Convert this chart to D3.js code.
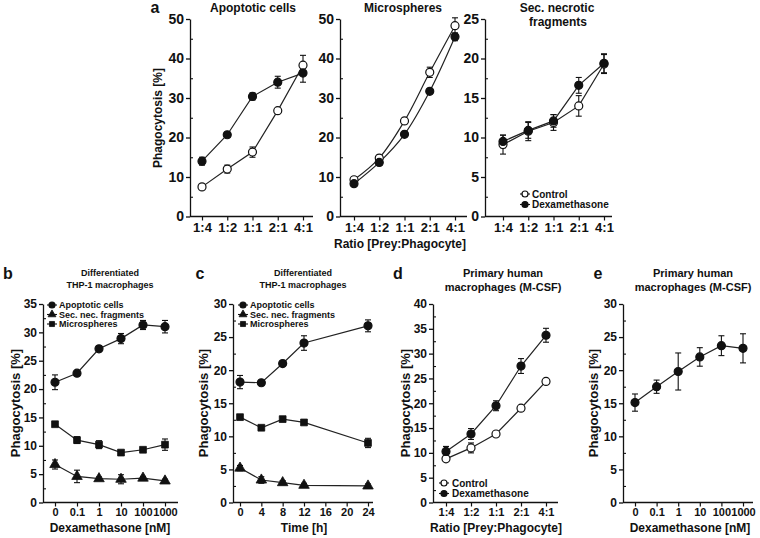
<!DOCTYPE html>
<html><head><meta charset="utf-8">
<script src="https://cdn.jsdelivr.net/npm/d3@7"></script>
<style>
body{margin:0;background:#fff;}
svg{display:block;}
text{font-family:"Liberation Sans",Arial,sans-serif;font-weight:bold;fill:#111;}
</style></head>
<body><svg id="chart" width="760" height="538"></svg>
<script>
// ---------- categories / tick labels ----------
const ratioLabels = ["1:4","1:2","1:1","2:1","4:1"];
const dexLabels = ["0","0.1","1","10","100","1000"];
const timeHours = [0,4,8,12,24];
const timeTicks = [0,4,8,12,16,20,24];

// ---------- panel a ----------
const apoCtrl = [7.5,12.0,16.3,26.8,38.3];
const apoCtrlErr = [0.4,1.0,1.3,0.4,2.5];
const apoDex = [14.0,20.7,30.4,34.0,36.3];
const apoDexErr = [1.0,0.6,0.9,1.5,2.3];
const micCtrl = [9.3,14.8,24.2,36.5,48.3];
const micCtrlErr = [0.8,0.7,0.7,1.3,2.0];
const micDex = [8.3,13.7,20.8,31.7,45.5];
const micDexErr = [0.5,0.8,0.5,0.4,1.0];
const necCtrl = [9.1,10.8,11.9,14.0,19.3];
const necCtrlErr = [1.2,1.2,1.0,1.3,1.2];
const necDex = [9.5,10.9,12.1,16.6,19.4];
const necDexErr = [0.8,1.0,0.8,1.0,1.2];

// ---------- panel b (dexamethasone dose, THP-1) ----------
const bApo = [21.2,22.8,27.1,28.9,31.3,31.0];
const bApoErr = [1.3,0.3,0.5,0.9,0.8,1.1];
const bMic = [13.8,11.0,10.2,8.8,9.3,10.2];
const bMicErr = [0.3,0.6,0.7,0.3,0.3,1.0];
const bNec = [6.7,4.6,4.2,4.1,4.3,3.8];
const bNecErr = [0.8,1.1,0.3,0.8,0.3,0.3];

// ---------- panel c (time, THP-1) ----------
const cApo = [18.2,18.1,21.0,24.1,26.7];
const cApoErr = [1.0,0.3,0.3,1.1,0.9];
const cMic = [12.9,11.3,12.6,12.1,9.0];
const cMicErr = [0.3,0.3,0.3,0.3,0.7];
const cNec = [5.2,3.4,3.0,2.6,2.5];
const cNecErr = [0.4,0.5,0.3,0.3,0.3];

// ---------- panel d (primary macrophages, ratio) ----------
const dCtrl = [8.8,11.0,13.8,19.0,24.4];
const dCtrlErr = [0.5,1.0,0.5,0.3,0.6];
const dDex = [10.3,13.8,19.5,27.5,33.7];
const dDexErr = [1.0,1.1,1.0,1.5,1.4];

// ---------- panel e (primary macrophages, dose) ----------
const eDex = [15.1,17.5,19.8,22.0,23.7,23.3];
const eDexErr = [1.3,1.0,2.8,1.4,1.5,2.2];

const svg = d3.select("#chart");
const INK = "#111";

function marker(g, shape, open, cx, cy, scale) {
  const s = scale || 1;
  if (shape === "circle") {
    g.append("circle").attr("cx",cx).attr("cy",cy).attr("r",4*s)
      .attr("fill", open ? "#fff" : INK).attr("stroke",INK).attr("stroke-width",1.2);
  } else {
    const type = shape === "square" ? d3.symbolSquare : d3.symbolTriangle;
    const size = shape === "square" ? 46*s*s : 48*s*s;
    g.append("path").attr("d", d3.symbol().type(type).size(size)())
      .attr("transform",`translate(${cx},${cy})`)
      .attr("fill",INK).attr("stroke",INK).attr("stroke-width",0.8);
  }
}

function drawPanel(p) {
  const g = svg.append("g");
  const y = d3.scaleLinear().domain([0,p.yMax]).range([p.yBot,p.yTop]);
  const x = p.x;
  // y axis (major ticks outward)
  const ga = g.append("g").attr("transform",`translate(${p.axisX},0)`)
    .call(d3.axisLeft(y).tickValues(d3.range(0,p.yMax+0.001,p.yStep))
      .tickSize(4).tickSizeOuter(0).tickPadding(2).tickFormat(d3.format("d")));
  ga.selectAll("text").style("font-size",p.yFont+"px").attr("fill",INK);
  ga.selectAll("line,path").attr("stroke",INK).attr("stroke-width",1.3);
  // minor ticks inward
  const minors = d3.range(p.yStep/2,p.yMax,p.yStep);
  const gm = g.append("g").attr("transform",`translate(${p.axisX},0)`)
    .call(d3.axisRight(y).tickValues(minors).tickSize(3).tickFormat(""));
  gm.select(".domain").remove();
  gm.selectAll("line").attr("stroke",INK).attr("stroke-width",1.1);
  // x axis
  const xa = d3.axisBottom(x).tickSize(4).tickSizeOuter(0).tickPadding(2);
  if (p.xTicks) xa.tickValues(p.xTicks);
  const gx = g.append("g").attr("transform",`translate(0,${p.yBot})`).call(xa);
  gx.select(".domain").remove();
  gx.selectAll("text").style("font-size",p.xFont+"px").attr("fill",INK);
  gx.selectAll("line").attr("stroke",INK).attr("stroke-width",1.2);
  g.append("line").attr("x1",p.axisX).attr("x2",p.axisEnd)
    .attr("y1",p.yBot).attr("y2",p.yBot).attr("stroke",INK).attr("stroke-width",1.3);

  const line = d3.line().curve(p.curve || d3.curveLinear);
  p.series.forEach(s => {
    const pts = s.vals.map((v,i) => [x(s.xs[i]), y(v)]);
    g.append("path").attr("d", line(pts)).attr("fill","none")
      .attr("stroke","#222").attr("stroke-width",1.2);
  });
  p.series.forEach(s => {
    s.vals.forEach((v,i) => {
      const cx = x(s.xs[i]);
      const e = s.err[i];
      const y1 = y(v-e), y2 = y(v+e);
      g.append("line").attr("x1",cx).attr("x2",cx).attr("y1",y1).attr("y2",y2)
        .attr("stroke",INK).attr("stroke-width",1.1);
      [y1,y2].forEach(yy => g.append("line").attr("x1",cx-3).attr("x2",cx+3)
        .attr("y1",yy).attr("y2",yy).attr("stroke",INK).attr("stroke-width",1.1));
    });
  });
  p.series.forEach(s => {
    s.vals.forEach((v,i) => marker(g, s.shape, s.open, x(s.xs[i]), y(v)));
  });
  if (p.ylabel) {
    g.append("text").attr("transform",`translate(${p.ylabel.x},${p.ylabel.y}) rotate(-90)`)
      .attr("text-anchor","middle").attr("dominant-baseline","central")
      .style("font-size",p.ylabel.size+"px").text("Phagocytosis [%]");
  }
  if (p.xlabel) {
    g.append("text").attr("x",p.xlabel.x).attr("y",p.xlabel.y)
      .attr("text-anchor","middle").attr("dominant-baseline","central")
      .style("font-size",p.xlabel.size+"px").text(p.xlabel.text);
  }
  return g;
}

function label(txt, x, y, size, anchor) {
  svg.append("text").attr("x",x).attr("y",y).attr("text-anchor",anchor||"middle")
    .attr("dominant-baseline","central").style("font-size",size+"px").text(txt);
}

function legend(items, mx, tx, y0, dy, size) {
  items.forEach((it,i) => {
    const g = svg.append("g");
    const yy = y0 + i*dy;
    g.append("line").attr("x1",mx-5).attr("x2",mx+5).attr("y1",yy).attr("y2",yy)
      .attr("stroke",INK).attr("stroke-width",1.1);
    marker(g, it.shape, it.open, mx, yy, 0.75);
    g.append("text").attr("x",tx).attr("y",yy).attr("dominant-baseline","central")
      .style("font-size",size+"px").text(it.text);
  });
}

// ===== Top row: panel a =====
const topY = {yTop:19, yBot:216.5, yFont:14, xFont:13};
drawPanel(Object.assign({}, topY, {
  axisX:190, axisEnd:313, yMax:50, yStep:10,
  x: d3.scalePoint().domain(ratioLabels).range([202,303]),
  series:[
    {xs:ratioLabels, vals:apoCtrl, err:apoCtrlErr, shape:"circle", open:true},
    {xs:ratioLabels, vals:apoDex, err:apoDexErr, shape:"circle", open:false}],
  ylabel:{x:158, y:118, size:12}
}));
drawPanel(Object.assign({}, topY, {
  axisX:340, axisEnd:467, yMax:50, yStep:10,
  x: d3.scalePoint().domain(ratioLabels).range([354,455]),
  curve: d3.curveCatmullRom,
  series:[
    {xs:ratioLabels, vals:micCtrl, err:micCtrlErr, shape:"circle", open:true},
    {xs:ratioLabels, vals:micDex, err:micDexErr, shape:"circle", open:false}],
  xlabel:{x:400, y:244, size:12, text:"Ratio [Prey:Phagocyte]"}
}));
drawPanel(Object.assign({}, topY, {
  axisX:485, axisEnd:612, yMax:25, yStep:5,
  x: d3.scalePoint().domain(ratioLabels).range([503,604]),
  series:[
    {xs:ratioLabels, vals:necCtrl, err:necCtrlErr, shape:"circle", open:true},
    {xs:ratioLabels, vals:necDex, err:necDexErr, shape:"circle", open:false}]
}));
label("a", 155, 7, 16);
label("Apoptotic cells", 253, 8, 12);
label("Microspheres", 403, 8, 12);
label("Sec. necrotic", 557, 8, 12);
label("fragments", 558, 22, 12);
legend([{text:"Control",shape:"circle",open:true},{text:"Dexamethasone",shape:"circle",open:false}],
  525, 532, 194, 10.5, 10);

// ===== Bottom row =====
const botY = {yTop:304, yBot:502.5, yFont:12, xFont:11};
drawPanel(Object.assign({}, botY, {
  axisX:43, axisEnd:178, yMax:35, yStep:5,
  x: d3.scalePoint().domain(dexLabels).range([55,165]),
  series:[
    {xs:dexLabels, vals:bApo, err:bApoErr, shape:"circle"},
    {xs:dexLabels, vals:bMic, err:bMicErr, shape:"square"},
    {xs:dexLabels, vals:bNec, err:bNecErr, shape:"triangle"}],
  ylabel:{x:15, y:403, size:13},
  xlabel:{x:110, y:528, size:12, text:"Dexamethasone [nM]"}
}));
drawPanel(Object.assign({}, botY, {
  axisX:233, axisEnd:373, yMax:30, yStep:5,
  x: d3.scaleLinear().domain([0,24]).range([240,368]), xTicks: timeTicks,
  series:[
    {xs:timeHours, vals:cApo, err:cApoErr, shape:"circle"},
    {xs:timeHours, vals:cMic, err:cMicErr, shape:"square"},
    {xs:timeHours, vals:cNec, err:cNecErr, shape:"triangle"}],
  ylabel:{x:203, y:403, size:13},
  xlabel:{x:304, y:528, size:12, text:"Time [h]"}
}));
drawPanel(Object.assign({}, botY, {
  axisX:433, axisEnd:558, yMax:40, yStep:5,
  x: d3.scalePoint().domain(ratioLabels).range([446,546]),
  series:[
    {xs:ratioLabels, vals:dCtrl, err:dCtrlErr, shape:"circle", open:true},
    {xs:ratioLabels, vals:dDex, err:dDexErr, shape:"circle", open:false}],
  ylabel:{x:405, y:403, size:13},
  xlabel:{x:496, y:528, size:12, text:"Ratio [Prey:Phagocyte]"}
}));
drawPanel(Object.assign({}, botY, {
  axisX:623, axisEnd:753, yMax:30, yStep:5,
  x: d3.scalePoint().domain(dexLabels).range([635,743]),
  series:[
    {xs:dexLabels, vals:eDex, err:eDexErr, shape:"circle"}],
  ylabel:{x:593, y:403, size:13},
  xlabel:{x:690, y:528, size:12, text:"Dexamethasone [nM]"}
}));

label("b", 8, 273, 16);
label("c", 200, 273, 16);
label("d", 398, 273, 16);
label("e", 598, 273, 16);
label("Differentiated", 110, 273, 9);
label("THP-1 macrophages", 110, 285, 9);
label("Differentiated", 303, 273, 9);
label("THP-1 macrophages", 303, 285, 9);
label("Primary human", 503, 273, 11);
label("macrophages (M-CSF)", 503, 287, 11);
label("Primary human", 693, 273, 11);
label("macrophages (M-CSF)", 693, 287, 11);

const thpLegend = [
  {text:"Apoptotic cells",shape:"circle"},
  {text:"Sec. nec. fragments",shape:"triangle"},
  {text:"Microspheres",shape:"square"}];
legend(thpLegend, 52, 59, 305, 9.5, 9);
legend(thpLegend, 243, 250, 305, 9.5, 9);
legend([{text:"Control",shape:"circle",open:true},{text:"Dexamethasone",shape:"circle",open:false}],
  444, 452, 483, 10.5, 10);
</script></body></html>
